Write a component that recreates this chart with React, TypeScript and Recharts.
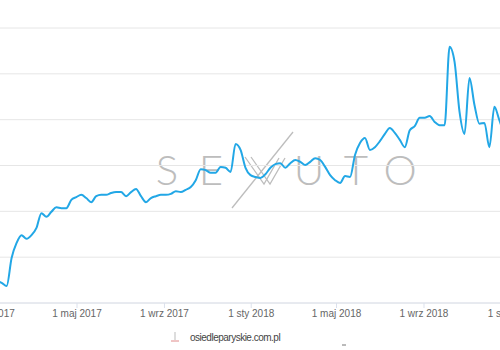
import React from "react";
import {
	LineChart,
	Line,
	XAxis,
	YAxis,
	CartesianGrid,
} from "recharts";

const DAY = 24 * 60 * 60 * 1000;
const startDate = Date.UTC(2017, 0, 1);

// weekly visibility values, starting 1 sty 2017
const weeklyValues = [
	5.0, 4.8, 4.4, 3.7, 9.8, 13.1, 14.8, 14.0, 14.8, 16.4,
	19.6, 18.8, 19.9, 20.9, 20.7, 20.7, 22.5, 23.1, 23.6, 22.9,
	22.0, 23.3, 23.6, 23.6, 24.0, 24.2, 24.2, 23.3, 24.2, 24.9,
	23.3, 22.0, 22.9, 23.3, 23.6, 23.6, 23.8, 24.4, 24.2, 24.7,
	25.3, 26.8, 29.2, 29.0, 28.4, 28.4, 29.7, 29.5, 28.6, 34.7,
	33.4, 29.5, 27.9, 27.5, 27.3, 28.1, 29.5, 30.3, 30.5, 29.5,
	30.5, 31.2, 30.8, 30.1, 30.8, 31.6, 31.2, 29.7, 27.9, 26.8,
	26.2, 27.7, 27.5, 32.3, 34.9, 36.0, 33.4, 34.0, 35.3, 36.9,
	38.2, 37.1, 35.6, 34.0, 37.7, 38.6, 40.4, 40.4, 40.8, 39.5,
	38.8, 38.8, 55.9, 52.6, 41.7, 36.9, 49.1, 43.2, 39.1, 39.3,
	34.0, 42.8, 39.9, 37.3, 37.7,
];

const tickDates = [
	"2017-01-01",
	"2017-05-01",
	"2017-09-01",
	"2018-01-01",
	"2018-05-01",
	"2018-09-01",
	"2019-01-01",
];
const tickLabels = [
	"1 sty 2017",
	"1 maj 2017",
	"1 wrz 2017",
	"1 sty 2018",
	"1 maj 2018",
	"1 wrz 2018",
	"1 sty 2019",
];
const yTicks = [0, 10, 20, 30, 40, 50, 60];

const domainName = "osiedleparyskie.com.pl";
const watermarkLetters = [
	{ ch: "S", x: 167 },
	{ ch: "E", x: 211 },
	{ ch: "U", x: 309 },
	{ ch: "T", x: 356 },
	{ ch: "O", x: 400 },
];

const data = weeklyValues.map((v, i) => ({
	date: startDate + i * 7 * DAY,
	value: v,
}));

const tickTimes = tickDates.map((d) => Date.parse(d + "T00:00:00Z"));

function formatTick(t: number): string {
	const idx = tickTimes.indexOf(t);
	return idx >= 0 ? tickLabels[idx] : "";
}

function Watermark() {
	return (
		<svg
			width={500}
			height={350}
			style={{ position: "absolute", left: 0, top: 0 }}
		>
			{watermarkLetters.map((l) => (
				<text
					key={l.ch}
					x={l.x}
					y={185}
					textAnchor="middle"
					fontSize={42}
					fontWeight={300}
					fontFamily="Lato, 'Open Sans', Roboto, sans-serif"
					fill="#bdbdbd"
				>
					{l.ch}
				</text>
			))}
			{/* stylised N */}
			<g stroke="#bdbdbd" strokeWidth={1.3} fill="none">
				<polyline points="245,157 264,184 279,158" />
				<polyline points="251,157 270,184 285,158" />
				<line x1={232} y1={208} x2={293} y2={132} />
			</g>
		</svg>
	);
}

export default function App() {
	return (
		<div
			style={{
				position: "absolute",
				left: 0,
				top: 0,
				width: 500,
				height: 350,
				overflow: "hidden",
				background: "#fff",
			}}
		>
			<Watermark />
			<div style={{ position: "absolute", left: -30, top: 0 }}>
				<LineChart
					width={560}
					height={350}
					data={data}
					margin={{ top: 28, right: 0, left: 0, bottom: 22 }}
				>
					<CartesianGrid vertical={false} stroke="#e6e6e6" />
					<XAxis
						dataKey="date"
						type="number"
						domain={[startDate - 30.5 * DAY, startDate + 757.1 * DAY]}
						ticks={tickTimes}
						tickFormatter={formatTick}
						interval={0}
						height={25}
						tickSize={5}
						tickMargin={2}
						axisLine={{ stroke: "#dce1ec" }}
						tickLine={{ stroke: "#dce1ec" }}
						tick={{
							fill: "#666",
							fontSize: 10,
							fontFamily: "'Liberation Sans', Arial, sans-serif",
						}}
					/>
					<YAxis hide domain={[0, 60]} ticks={yTicks} />
					<Line
						type="monotone"
						dataKey="value"
						stroke="#22a7e6"
						strokeWidth={2}
						dot={false}
						isAnimationActive={false}
					/>
				</LineChart>
			</div>
			<svg
				width={500}
				height={350}
				style={{ position: "absolute", left: 0, top: 0 }}
			>
				<line x1={175} y1={332} x2={175} y2={340} stroke="#bbb" strokeWidth={1} />
				<line x1={171} y1={341} x2={179} y2={341} stroke="#e08a8a" strokeWidth={1} />
				<text
					x={190}
					y={341}
					fontSize={10}
					letterSpacing={-0.5}
					fill="#444"
					fontFamily="'Liberation Sans', Arial, sans-serif"
				>
					{domainName}
				</text>
				<line x1={342} y1={345} x2={346} y2={345} stroke="#777" strokeWidth={1} />
			</svg>
		</div>
	);
}
